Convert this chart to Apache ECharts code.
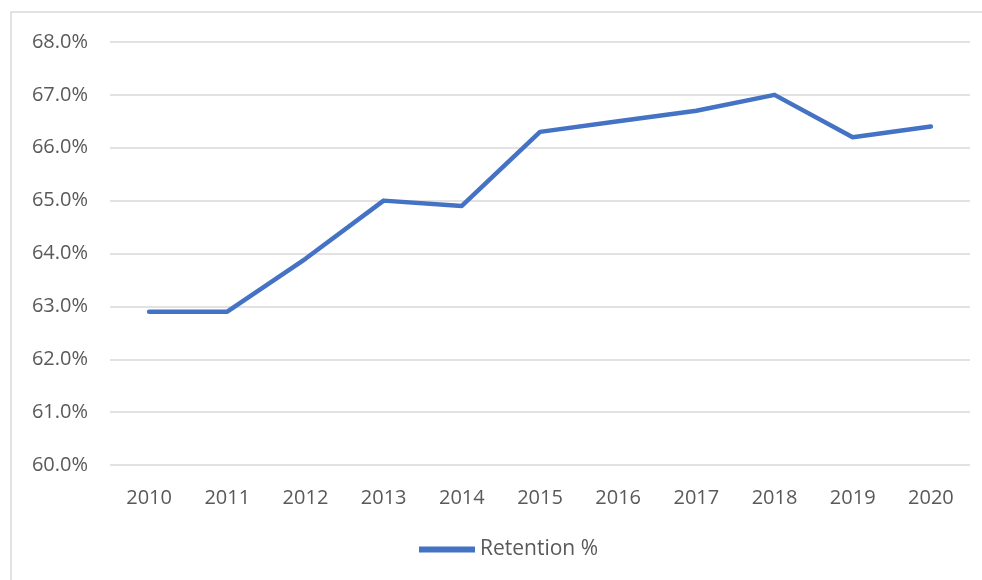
<!DOCTYPE html>
<html><head><meta charset="utf-8">
<script src="https://cdn.jsdelivr.net/npm/echarts@6/dist/echarts.min.js"></script>
<style>html,body{margin:0;padding:0;background:#fff}#c{width:982px;height:580px}</style>
</head><body><div id="c"></div>
<script>
const categories = ['2010','2011','2012','2013','2014','2015','2016','2017','2018','2019','2020'];
const retention = [62.9, 62.9, 63.9, 65.0, 64.9, 66.3, 66.5, 66.7, 67.0, 66.2, 66.4];
const seriesName = 'Retention %';

const chart = echarts.init(document.getElementById('c'), null, {renderer:'canvas'});
const font = '"Open Sans", sans-serif';
chart.setOption({
  animation: false,
  backgroundColor: '#fff',
  graphic: [{type:'rect', shape:{x:11, y:12, width:990, height:600}, style:{fill:'none', stroke:'#d9d9d9', lineWidth:1.5}, z:-1}],
  grid: {left:110, right:12, top:42, bottom:115},
  legend: {bottom: 15, left:414, itemWidth:56, itemHeight:6, itemGap:3,
    textStyle:{color:'#595959', fontSize:21, fontFamily:font},
    data:[{name:seriesName, icon:'path://M0,0 L56,0 L56,6 L0,6 Z'}]},
  xAxis: {type:'category', data:categories, boundaryGap:true,
    axisLine:{show:false}, axisTick:{show:false},
    axisLabel:{color:'#595959', fontSize:20, fontFamily:font, margin:23}},
  yAxis: {type:'value', min:60, max:68, interval:1,
    axisLine:{show:false}, axisTick:{show:false},
    splitLine:{lineStyle:{color:'#d9d9d9', width:1.5}},
    axisLabel:{color:'#595959', fontSize:20, fontFamily:font, margin:22,
      formatter: v => v.toFixed(1) + '%'}},
  series: [{name:seriesName, type:'line', data:retention, symbol:'none',
    lineStyle:{color:'#4472C4', width:4.5, cap:'round', join:'round'},
    itemStyle:{color:'#4472C4'}}]
});
</script></body></html>
